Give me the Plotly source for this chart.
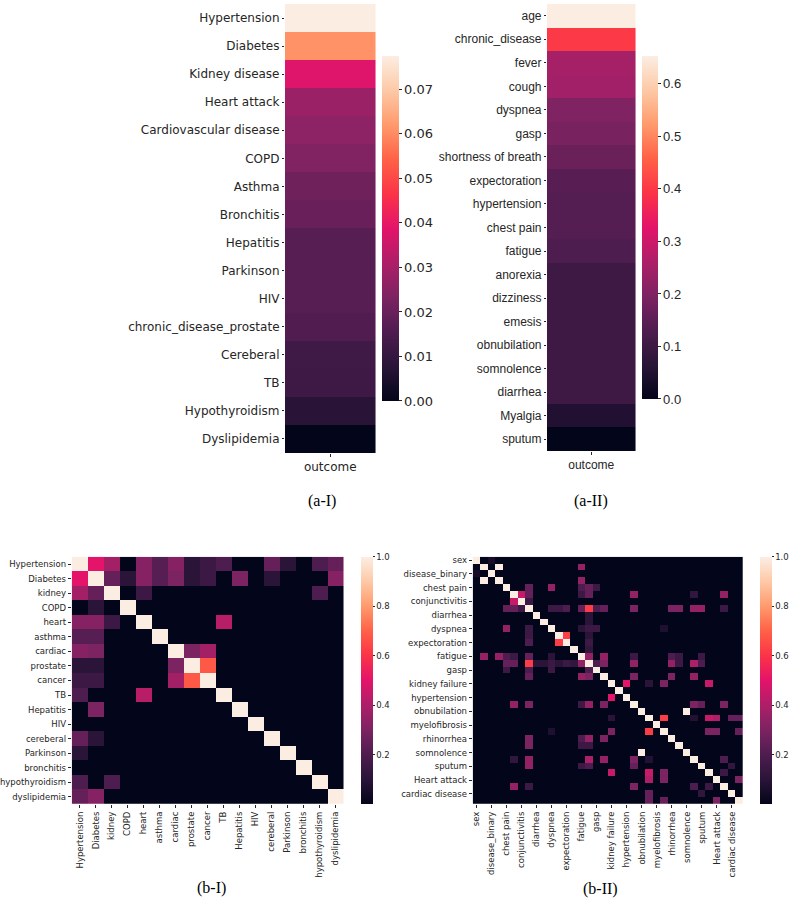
import plotly.graph_objects as go

# ---------------- data ----------------
a1_features = ["Hypertension", "Diabetes", "Kidney disease", "Heart attack",
               "Cardiovascular disease", "COPD", "Asthma", "Bronchitis", "Hepatitis",
               "Parkinson", "HIV", "chronic_disease_prostate", "Cereberal", "TB",
               "Hypothyroidism", "Dyslipidemia"]
a1_values = [0.0775, 0.061, 0.038, 0.028, 0.026, 0.024, 0.021, 0.020, 0.017,
             0.017, 0.017, 0.016, 0.0125, 0.012, 0.0075, 0.0]

a2_features = ["age", "chronic_disease", "fever", "cough", "dyspnea", "gasp",
               "shortness of breath", "expectoration", "hypertension", "chest pain",
               "fatigue", "anorexia", "dizziness", "emesis", "obnubilation",
               "somnolence", "diarrhea", "Myalgia", "sputum"]
a2_values = [0.653, 0.40, 0.25, 0.245, 0.20, 0.19, 0.17, 0.145, 0.14, 0.14,
             0.13, 0.10, 0.10, 0.10, 0.10, 0.10, 0.10, 0.05, 0.0]

b1_features = ["Hypertension", "Diabetes", "kidney", "COPD", "heart", "asthma",
               "cardiac", "prostate", "cancer", "TB", "Hepatitis", "HIV",
               "cereberal", "Parkinson", "bronchitis", "hypothyroidism", "dyslipidemia"]
b1_pairs = [(0, 1, 0.5), (0, 2, 0.38), (0, 4, 0.32), (0, 5, 0.22), (0, 6, 0.32),
            (0, 7, 0.1), (0, 8, 0.15), (0, 9, 0.2), (0, 12, 0.25), (0, 13, 0.1),
            (0, 15, 0.2), (0, 16, 0.25),
            (1, 2, 0.25), (1, 3, 0.1), (1, 4, 0.32), (1, 5, 0.22), (1, 6, 0.3),
            (1, 7, 0.1), (1, 8, 0.15), (1, 10, 0.3), (1, 12, 0.1), (1, 16, 0.32),
            (2, 4, 0.15), (2, 15, 0.2), (4, 9, 0.42), (6, 7, 0.3), (6, 8, 0.38),
            (7, 8, 0.68)]

b2_features = ["sex", "anorexia", "disease_binary", "chills", "chest pain", "cough",
               "conjunctivitis", "fever", "diarrhea", "dizziness", "dyspnea", "emesis",
               "expectoration", "eye irritation", "fatigue", "headache", "gasp",
               "hemoptysis", "kidney failure", "lesions", "hypertension", "myalgia",
               "obnubilation", "myocardial infarction", "myelofibrosis", "pneumonia",
               "rhinorrhea", "sore throat", "somnolence", "runny nose", "sputum",
               "sweating", "Heart attack", "toothache", "cardiac disease", "weakness"]
b2_pairs = [(0, 2, 0.05), (1, 3, 1.0), (1, 14, 0.35), (3, 14, 0.35),
            (4, 7, 0.25), (4, 10, 0.35), (4, 14, 0.2), (4, 15, 0.25), (4, 16, 0.15),
            (5, 6, 0.45), (5, 7, 0.25), (5, 14, 0.15), (5, 15, 0.25), (5, 21, 0.35),
            (5, 29, 0.12), (5, 33, 0.35), (6, 7, 0.15),
            (7, 10, 0.15), (7, 11, 0.15), (7, 12, 0.2), (7, 14, 0.25), (7, 15, 0.62),
            (7, 16, 0.2), (7, 17, 0.25), (7, 21, 0.3), (7, 26, 0.3), (7, 27, 0.3),
            (7, 29, 0.35), (7, 30, 0.35), (7, 33, 0.15),
            (8, 15, 0.1), (9, 15, 0.1), (10, 14, 0.1), (10, 15, 0.15), (10, 16, 0.15),
            (10, 25, 0.07), (11, 12, 0.62), (11, 15, 0.1), (12, 15, 0.15), (13, 15, 0.12),
            (14, 15, 0.35), (14, 17, 0.35), (14, 21, 0.15), (14, 26, 0.2), (14, 27, 0.15),
            (14, 30, 0.15), (15, 16, 0.2), (15, 17, 0.3), (15, 21, 0.35), (15, 26, 0.35),
            (15, 27, 0.15), (15, 29, 0.4), (15, 30, 0.2),
            (17, 21, 0.3), (17, 26, 0.3), (17, 29, 0.35),
            (18, 20, 0.5), (18, 23, 0.1), (18, 25, 0.3), (18, 31, 0.45),
            (21, 29, 0.3), (21, 30, 0.25), (21, 33, 0.3), (22, 28, 1.0),
            (23, 25, 0.62), (23, 29, 0.08), (23, 31, 0.45), (23, 32, 0.4),
            (23, 34, 0.25), (23, 35, 0.25), (25, 31, 0.3), (25, 32, 0.3), (25, 35, 0.25),
            (29, 33, 0.2), (31, 33, 0.15), (32, 35, 0.3), (30, 34, 0.12)]

a1_ticks = [0.0, 0.01, 0.02, 0.03, 0.04, 0.05, 0.06, 0.07]
a2_ticks = [0.0, 0.1, 0.2, 0.3, 0.4, 0.5, 0.6]
b_ticks = [0.2, 0.4, 0.6, 0.8, 1.0]
captions = ["(a-I)", "(a-II)", "(b-I)", "(b-II)"]


def build_matrix(n, pairs):
    m = [[0.0] * n for _ in range(n)]
    for i in range(n):
        m[i][i] = 1.0
    for i, j, v in pairs:
        m[i][j] = v
        m[j][i] = v
    return m


b1_matrix = build_matrix(len(b1_features), b1_pairs)
b2_matrix = build_matrix(len(b2_features), b2_pairs)

# ---------------- layout helpers ----------------
W, H = 789, 898


def fx(px):
    return px / W


def fy(py):
    return 1 - py / H


rocket = [[0.0, "#03051A"], [0.1, "#2A1438"], [0.2, "#4E1D4F"], [0.3, "#7C2362"],
          [0.4, "#AD1F68"], [0.5, "#E3146A"], [0.6, "#FB3347"], [0.7, "#FF6147"],
          [0.8, "#FF9A6C"], [0.9, "#FDC9A6"], [1.0, "#FCEDE3"]]

TXT = "#262626"
DEJAVU = "DejaVu Sans"
ARIAL = "Liberation Sans, Arial"


def cbar(x0, x1, y0, y1, ticks, fmt, font, size, tlen=3):
    return dict(x=fx(x0), xanchor="left", y=fy((y0 + y1) / 2), yanchor="middle",
                len=(y1 - y0) / H, lenmode="fraction", thickness=x1 - x0,
                thicknessmode="pixels", outlinewidth=0, xpad=0, ypad=0,
                ticks="outside", ticklen=tlen, tickcolor=TXT, tickwidth=1,
                tickvals=ticks, ticktext=[format(t, fmt) for t in ticks],
                tickfont=dict(family=font, size=size, color=TXT))


fig = go.Figure()

fig.add_trace(go.Heatmap(z=[[v] for v in a1_values], x=["outcome"], y=a1_features,
                         colorscale=rocket, zmin=0, zmax=max(a1_values),
                         xaxis="x", yaxis="y",
                         colorbar=cbar(380, 397, 54, 400, a1_ticks, ".2f", DEJAVU, 13)))
fig.add_trace(go.Heatmap(z=[[v] for v in a2_values], x=["outcome"], y=a2_features,
                         colorscale=rocket, zmin=0, zmax=max(a2_values),
                         xaxis="x2", yaxis="y2",
                         colorbar=cbar(641, 657, 54, 398, a2_ticks, ".1f", ARIAL, 13)))
n1 = len(b1_features)
fig.add_trace(go.Heatmap(z=b1_matrix, x=list(range(n1)), y=list(range(n1)),
                         colorscale=rocket, zmin=0, zmax=1,
                         xaxis="x3", yaxis="y3",
                         colorbar=cbar(359, 371, 556, 804, b_ticks, ".1f", DEJAVU, 8.5, 2)))
n2 = len(b2_features)
fig.add_trace(go.Heatmap(z=b2_matrix, x=list(range(n2)), y=list(range(n2)),
                         colorscale=rocket, zmin=0, zmax=1,
                         xaxis="x4", yaxis="y4",
                         colorbar=cbar(760, 772, 556, 804, b_ticks, ".1f", DEJAVU, 8.5, 2)))

base = dict(showgrid=False, zeroline=False, showline=False, ticks="outside",
            ticklen=3, tickcolor=TXT, tickwidth=1)

fig.update_layout(
    width=W, height=H, margin=dict(l=0, r=0, t=0, b=0),
    paper_bgcolor="white", plot_bgcolor="white", showlegend=False,
    xaxis=dict(base, domain=[fx(283), fx(374)], anchor="y",
               tickfont=dict(family=DEJAVU, size=12, color=TXT)),
    yaxis=dict(base, domain=[fy(452), fy(2)], anchor="x", autorange="reversed",
               tickfont=dict(family=DEJAVU, size=12, color=TXT), ticklen=2),
    xaxis2=dict(base, domain=[fx(546), fx(635)], anchor="y2",
                tickfont=dict(family=ARIAL, size=12, color=TXT)),
    yaxis2=dict(base, domain=[fy(450), fy(2)], anchor="x2", autorange="reversed",
                tickfont=dict(family=ARIAL, size=12, color=TXT), ticklen=2),
    xaxis3=dict(base, domain=[fx(69), fx(342)], anchor="y3", range=[-0.5, n1 - 0.5],
                tickmode="array", tickvals=list(range(n1)), ticktext=b1_features,
                tickangle=-90, tickfont=dict(family=DEJAVU, size=8.5, color=TXT)),
    yaxis3=dict(base, domain=[fy(804), fy(556)], anchor="x3", range=[n1 - 0.5, -0.5],
                tickmode="array", tickvals=list(range(n1)), ticktext=b1_features,
                tickfont=dict(family=DEJAVU, size=8.5, color=TXT)),
    xaxis4=dict(base, domain=[fx(471.5), fx(743)], anchor="y4", range=[-0.5, n2 - 0.5],
                tickmode="array", tickvals=list(range(0, n2, 2)),
                ticktext=b2_features[0::2],
                tickangle=-90, tickfont=dict(family=DEJAVU, size=8.5, color=TXT)),
    yaxis4=dict(base, domain=[fy(804), fy(556)], anchor="x4", range=[n2 - 0.5, -0.5],
                tickmode="array", tickvals=list(range(0, n2, 2)),
                ticktext=b2_features[0::2],
                tickfont=dict(family=DEJAVU, size=8.5, color=TXT)),
)

cap_pos = [(320, 500), (590, 500), (209, 888), (600, 889)]
for text, (cx, cy) in zip(captions, cap_pos):
    fig.add_annotation(text=text, x=fx(cx), y=fy(cy), xref="paper", yref="paper",
                       showarrow=False, xanchor="center", yanchor="middle",
                       font=dict(family="Liberation Serif, Times New Roman", size=16,
                                 color="black"))

fig.write_html("out.html", config={"displayModeBar": False},
               post_script="document.body.style.margin='0';"
                           "document.body.style.overflow='hidden';")
